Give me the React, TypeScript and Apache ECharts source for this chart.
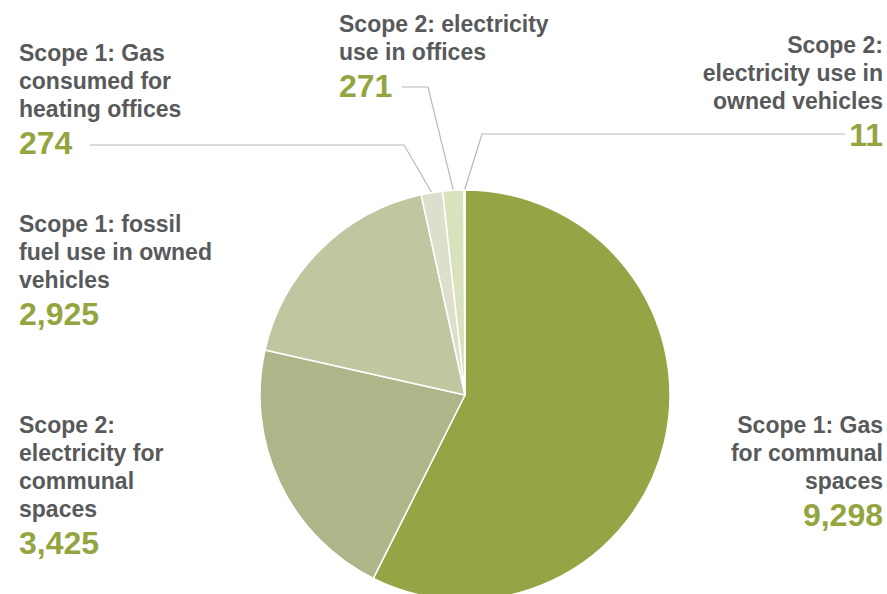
import React, { useEffect, useRef } from "react";
import * as echarts from "echarts";

const categories = [
  "Scope 1: Gas for communal spaces",
  "Scope 2: electricity for communal spaces",
  "Scope 1: fossil fuel use in owned vehicles",
  "Scope 1: Gas consumed for heating offices",
  "Scope 2: electricity use in offices",
  "Scope 2: electricity use in owned vehicles",
];
const wrappedLabels = [
  "Scope 1: Gas\nfor communal\nspaces",
  "Scope 2:\nelectricity for\ncommunal\nspaces",
  "Scope 1: fossil\nfuel use in owned\nvehicles",
  "Scope 1: Gas\nconsumed for\nheating offices",
  "Scope 2: electricity\nuse in offices",
  "Scope 2:\nelectricity use in\nowned vehicles",
];
const values = [9298, 3425, 2925, 274, 271, 11];
const colors = ["#94a545", "#aeb588", "#c1c5a0", "#dddfcc", "#d8e2bc", "#a9b96a"];

// label placement (layout only)
const labelPos: any[] = [
  { x: 883, y: 411, align: "right" },
  { x: 19, y: 411, align: "left" },
  { x: 19, y: 210, align: "left" },
  { x: 19, y: 39, align: "left", bend: [404, 145], end: [90, 145] },
  { x: 339, y: 10, align: "left", bend: [428, 87], end: [402, 87] },
  { x: 883, y: 31, align: "right", bend: [482, 134], end: [845, 134] },
];

export default function App() {
  const ref = useRef<HTMLDivElement>(null);
  useEffect(() => {
    const chart = echarts.init(ref.current!, null, { renderer: "svg" });
    const font = "'Liberation Sans', Arial, Helvetica, sans-serif";
    chart.setOption({
      animation: false,
      backgroundColor: "#ffffff",
      series: [
        {
          type: "pie",
          center: [465, 395],
          radius: [0, 205],
          startAngle: 90,
          clockwise: true,
          avoidLabelOverlap: false,
          itemStyle: { borderColor: "#ffffff", borderWidth: 1.5 },
          label: {
            show: true,
            position: "outside",
            fontFamily: font,
            formatter: (p: any) =>
              `{n|${wrappedLabels[p.dataIndex]}}\n{v|${Number(p.value).toLocaleString("en-US")}}`,
            rich: {
              n: {
                fontFamily: font,
                fontWeight: "bold",
                fontSize: 23,
                lineHeight: 28,
                color: "#58595b",
              },
              v: {
                fontFamily: font,
                fontWeight: "bold",
                fontSize: 32,
                lineHeight: 40,
                color: "#94a53f",
              },
            },
          },
          labelLine: {
            show: true,
            lineStyle: { color: "#b8b8b8", width: 1.2 },
          },
          labelLayout: (params: any) => {
            const L = labelPos[params.dataIndex];
            const res: any = { x: L.x, y: L.y, align: L.align, verticalAlign: "top" };
            if (L.bend && params.labelLinePoints) {
              res.labelLinePoints = [params.labelLinePoints[0], L.bend, L.end];
            }
            return res;
          },
          data: values.map((v, i) => ({
            name: categories[i],
            value: v,
            itemStyle: { color: colors[i] },
            labelLine: { show: !!labelPos[i].bend },
          })),
        },
      ],
    });
    return () => chart.dispose();
  }, []);
  return (
    <div
      ref={ref}
      style={{ position: "fixed", left: 0, top: 0, width: 887, height: 594 }}
    />
  );
}
